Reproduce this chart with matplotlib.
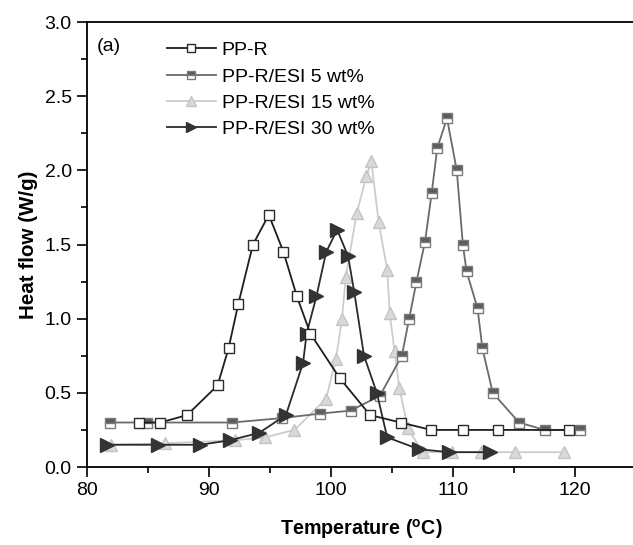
import numpy as np
import matplotlib
matplotlib.use("Agg")
from matplotlib import pyplot as plt
from matplotlib.ticker import MultipleLocator

plt.rcParams['font.family'] = ['Liberation Sans', 'DejaVu Sans']
plt.rcParams['mathtext.fontset'] = 'custom'
plt.rcParams['mathtext.rm'] = 'Liberation Sans'
plt.rcParams['mathtext.bf'] = 'Liberation Sans:bold'

# data
t_ppr = [84.3, 86.0, 88.2, 90.7, 91.6, 92.4, 93.6, 94.9, 96.1, 97.2, 98.3, 100.7,
         103.2, 105.7, 108.2, 110.8, 113.7, 119.5]
h_ppr = [0.30, 0.30, 0.35, 0.55, 0.80, 1.10, 1.50, 1.70, 1.45, 1.15, 0.90, 0.60,
         0.35, 0.30, 0.25, 0.25, 0.25, 0.25]

t_5 = [81.9, 84.9, 91.9, 96.0, 99.1, 101.6, 104.0, 105.8, 106.4, 107.0, 107.7, 108.25,
       108.7, 109.5, 110.3, 110.8, 111.1, 112.0, 112.4, 113.25, 115.4, 117.5, 120.4]
h_5 = [0.30, 0.30, 0.30, 0.33, 0.36, 0.38, 0.48, 0.75, 1.00, 1.25, 1.52, 1.85,
       2.15, 2.35, 2.00, 1.50, 1.32, 1.07, 0.80, 0.50, 0.30, 0.25, 0.25]

t_15 = [82.0, 86.4, 92.1, 94.6, 97.0, 99.6, 100.4, 100.9, 101.2, 102.1, 102.9, 103.3,
        103.9, 104.6, 104.8, 105.2, 105.6, 106.3, 107.5, 109.9, 112.3, 115.1, 119.1]
h_15 = [0.15, 0.16, 0.18, 0.20, 0.25, 0.46, 0.73, 1.00, 1.28, 1.71, 1.96, 2.06,
        1.65, 1.33, 1.04, 0.78, 0.53, 0.26, 0.10, 0.10, 0.10, 0.10, 0.10]

t_30 = [81.6, 85.8, 89.3, 91.7, 94.1, 96.3, 97.7, 98.0, 98.8, 99.6, 100.5, 101.4,
        101.9, 102.7, 103.75, 104.6, 107.2, 109.7, 113.0]
h_30 = [0.15, 0.15, 0.15, 0.18, 0.23, 0.35, 0.70, 0.90, 1.15, 1.45, 1.60, 1.42,
        1.18, 0.75, 0.50, 0.20, 0.12, 0.10, 0.10]

labels = ['PP-R', 'PP-R/ESI 5 wt%', 'PP-R/ESI 15 wt%', 'PP-R/ESI 30 wt%']

fig = plt.figure(figsize=(6.33, 5.45), dpi=100)
ax = fig.add_axes([0.1374, 0.1431, 0.8676, 0.8165])

ax.plot(t_ppr, h_ppr, color='#1e1e1e', lw=1.3, marker='s', ms=7.5,
        mfc='white', mec='#2a2a2a', mew=1.0, label=labels[0], zorder=5)
ax.plot(t_5, h_5, color='#6a6a6a', lw=1.3, marker='s', ms=7.5, fillstyle='top',
        mfc='#5c5c5c', mfcalt='white', mec='#7a7a7a', mew=1.0, label=labels[1], zorder=3)
ax.plot(t_15, h_15, color='#cdcdcd', lw=1.3, marker='^', ms=9,
        mfc='#d9d9d9', mec='#c4c4c4', mew=1.0, label=labels[2], zorder=2)
ax.plot(t_30, h_30, color='#2a2a2a', lw=1.3, marker='>', ms=10,
        mfc='#333333', mec='#333333', label=labels[3], zorder=4)

ax.set_xlim(80, 125)
ax.set_ylim(0, 3.0)
ax.xaxis.set_major_locator(MultipleLocator(10))
ax.xaxis.set_minor_locator(MultipleLocator(5))
ax.yaxis.set_major_locator(MultipleLocator(0.5))
ax.yaxis.set_minor_locator(MultipleLocator(0.25))
ax.yaxis.set_major_formatter(matplotlib.ticker.FormatStrFormatter('%.1f'))
ax.tick_params(which='both', direction='out', top=False, right=False,
               labelsize=14, width=1.2)
ax.tick_params(which='major', length=7, pad=4)
ax.tick_params(which='minor', length=4)
for s in ax.spines.values():
    s.set_linewidth(1.3)
ax.spines['right'].set_visible(False)

ax.set_xlabel(r'Temperature ($\mathbf{^{o}}$C)', fontsize=14.2, fontweight='bold', labelpad=13)
ax.set_ylabel('Heat flow (W/g)', fontsize=14.8, fontweight='bold', labelpad=5)

ax.text(0.04, 0.944, '(a)', transform=ax.transAxes, fontsize=14, ha='center', va='center')
ax.legend(loc='upper left', bbox_to_anchor=(0.146, 0.956), frameon=False, fontsize=14,
          handlelength=2.5, handletextpad=0.3, labelspacing=0.45, borderaxespad=0,
          borderpad=0, markerscale=0.75)

fig.savefig('out.png', dpi=100)
